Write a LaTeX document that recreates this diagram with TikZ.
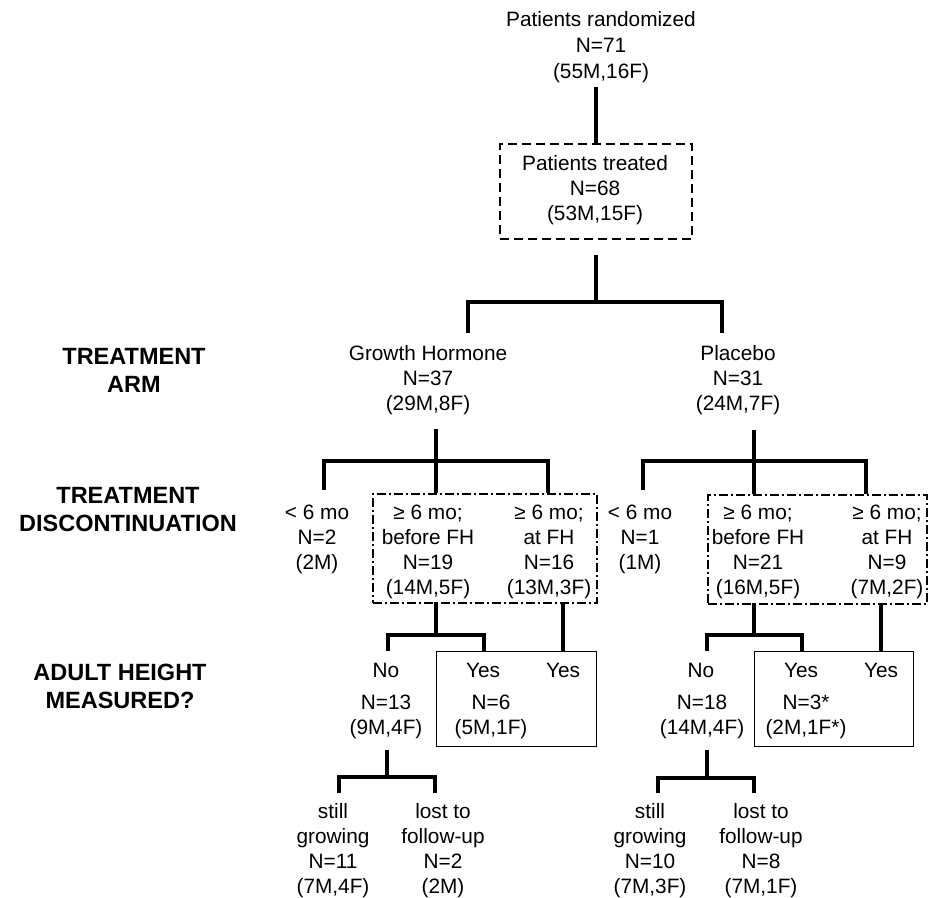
\documentclass[tikz,border=0pt]{standalone}
\usepackage{fontspec}
\setmainfont{Liberation Sans}
\newcommand{\blk}[1]{\begin{tabular}[t]{@{}c@{}}#1\end{tabular}}
\begin{document}
\begin{tikzpicture}[x=1pt,y=-1pt,
  txt/.style={inner sep=0pt, anchor=base, font=\fontsize{20.8}{25}\selectfont},
  txttop/.style={inner sep=0pt, anchor=base, font=\fontsize{20.8}{26}\selectfont},
  lbl/.style={inner sep=0pt, anchor=base, font=\fontsize{23.5}{28}\selectfont\bfseries},
  conn/.style={line width=3.2pt, line join=miter},
  dashbox/.style={draw, line width=1.5pt, dash pattern=on 9pt off 5pt, anchor=north west, inner sep=0pt},
  dotbox/.style={draw, line width=1.5pt, dash pattern=on 9pt off 3pt on 2pt off 3pt, anchor=north west, inner sep=0pt},
  solidbox/.style={draw, line width=1pt, anchor=north west, inner sep=0pt}]
\useasboundingbox (0,0) rectangle (941,897);

% top
\node[txttop] (rand) at (601,26) {\blk{Patients randomized\\N=71\\(55M,16F)}};
\node[dashbox, minimum width=192pt, minimum height=95pt] (treatbox) at (499,143) {};
\node[txt] (treat) at (595,170) {\blk{Patients treated\\N=68\\(53M,15F)}};
\coordinate (r1) at (596,87);
\draw[conn] (r1) -- (r1 |- treatbox.north) ++(0,-15) coordinate (r2);
\draw[conn] (596,128) -- (596,87);
\draw[conn] (596,255) -- (596,302);
\draw[conn] (468,333) -- (468,302) -- (722,302) -- (722,333);

% row labels
\node[lbl] (larm) at (134,364) {\blk{TREATMENT\\ARM}};
\node[lbl] (ldisc) at (128,503) {\blk{TREATMENT\\DISCONTINUATION}};
\node[lbl] (ladult) at (120,680) {\blk{ADULT HEIGHT\\MEASURED?}};

% arms
\node[txt] (gh) at (428,360) {\blk{Growth Hormone\\N=37\\(29M,8F)}};
\node[txt] (pl) at (738,360) {\blk{Placebo\\N=31\\(24M,7F)}};

% GH branch
\draw[conn] (436,429) -- (436,461);
\draw[conn] (324,490) -- (324,461) -- (548,461) -- (548,493);
\draw[conn] (436,461) -- (436,493);
\node[dotbox, minimum width=224pt, minimum height=109pt] (ghbox) at (372,493) {};
\node[txt] (gh1) at (317,519) {\blk{< 6 mo\\N=2\\(2M)}};
\node[txt] (gh2) at (428,519) {\blk{≥ 6 mo;\\before FH\\N=19\\(14M,5F)}};
\node[txt] (gh3) at (549,519) {\blk{≥ 6 mo;\\at FH\\N=16\\(13M,3F)}};

\draw[conn] (436,602) -- (436,635);
\draw[conn] (388,651) -- (388,635) -- (484,635) -- (484,651);
\draw[conn] (563,602) -- (563,651);
\node[solidbox, minimum width=160pt, minimum height=95pt] (ghyes) at (436,651) {};
\node[txt] (ghno) at (386,677) {No};
\node[txt] (ghnon) at (386,709) {\blk{N=13\\(9M,4F)}};
\node[txt] (ghy1) at (483,677) {Yes};
\node[txt] (ghy2) at (563,677) {Yes};
\node[txt] (ghyn) at (491,709) {\blk{N=6\\(5M,1F)}};
\draw[conn] (387,750) -- (387,777);
\draw[conn] (339,793) -- (339,777) -- (435,777) -- (435,793);
\node[txt] (ghsg) at (333,818) {\blk{still\\growing\\N=11\\(7M,4F)}};
\node[txt] (ghlf) at (443,818) {\blk{lost to\\follow-up\\N=2\\(2M)}};

% Placebo branch
\draw[conn] (754,430) -- (754,461);
\draw[conn] (643,490) -- (643,461) -- (866,461) -- (866,494);
\draw[conn] (754,461) -- (754,494);
\node[dotbox, minimum width=219pt, minimum height=109pt] (plbox) at (707,494) {};
\node[txt] (pl1) at (640,519) {\blk{< 6 mo\\N=1\\(1M)}};
\node[txt] (pl2) at (758,519) {\blk{≥ 6 mo;\\before FH\\N=21\\(16M,5F)}};
\node[txt] (pl3) at (887,519) {\blk{≥ 6 mo;\\at FH\\N=9\\(7M,2F)}};

\draw[conn] (754,603) -- (754,635);
\draw[conn] (707,651) -- (707,635) -- (802,635) -- (802,651);
\draw[conn] (881,603) -- (881,651);
\node[solidbox, minimum width=159pt, minimum height=95pt] (plyes) at (754,651) {};
\node[txt] (plno) at (701,677) {No};
\node[txt] (plnon) at (702,709) {\blk{N=18\\(14M,4F)}};
\node[txt] (ply1) at (801,677) {Yes};
\node[txt] (ply2) at (881,677) {Yes};
\node[txt] (plyn) at (806,709) {\blk{N=3*\\(2M,1F*)}};
\draw[conn] (707,750) -- (707,778);
\draw[conn] (658,793) -- (658,778) -- (754,778) -- (754,793);
\node[txt] (plsg) at (650,818) {\blk{still\\growing\\N=10\\(7M,3F)}};
\node[txt] (pllf) at (761,818) {\blk{lost to\\follow-up\\N=8\\(7M,1F)}};
\end{tikzpicture}
\end{document}
